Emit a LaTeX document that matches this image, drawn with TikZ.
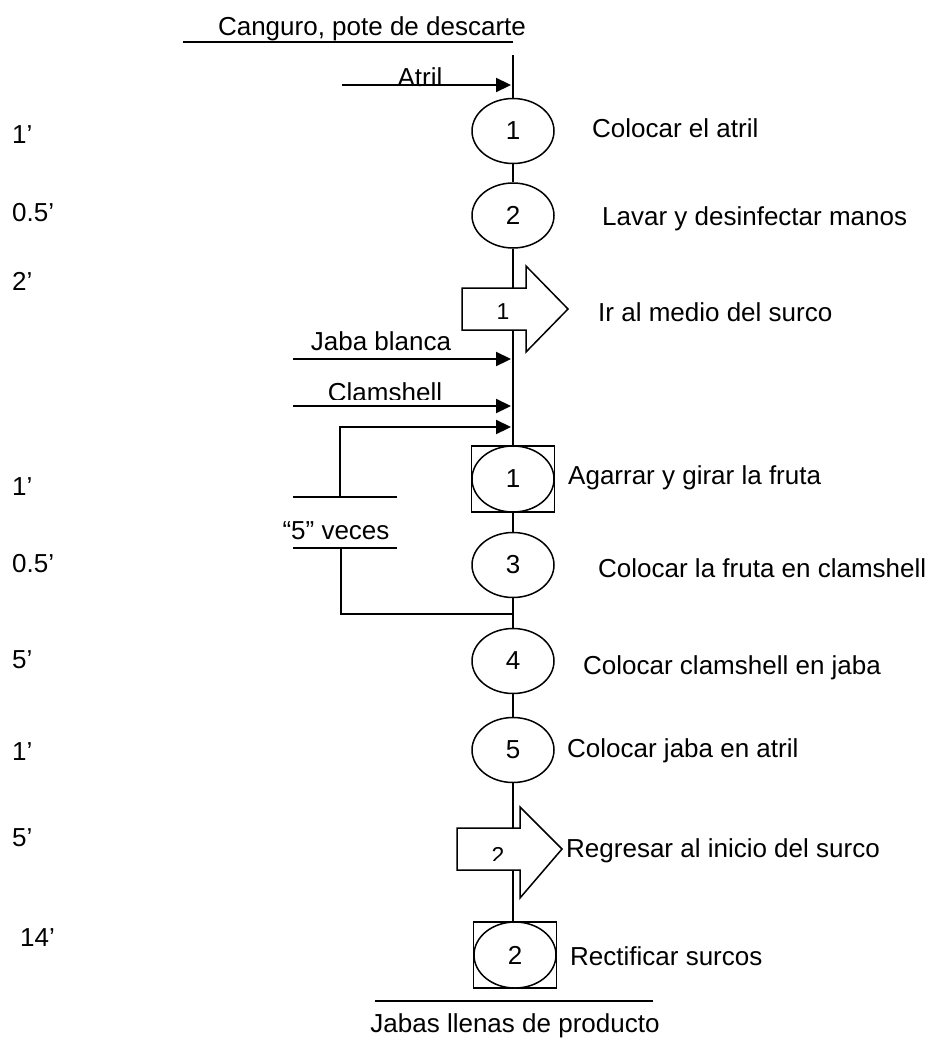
\documentclass[tikz,border=0pt]{standalone}
\usepackage{fontspec}
\setmainfont{Liberation Sans}
\usetikzlibrary{arrows.meta,shapes.geometric}
\begin{document}
\begin{tikzpicture}[x=1pt,y=-1pt,
  every node/.style={font=\fontsize{26}{31}\selectfont},
  op/.style={ellipse,draw,line width=1.5pt,fill=white,minimum width=82pt,minimum height=65pt,inner sep=0pt},
  combo/.style={rectangle,draw,line width=1.5pt,fill=white,minimum width=83pt,minimum height=66pt,inner sep=0pt},
  flow/.style={line width=1.8pt},
  feed/.style={line width=2.2pt,-{Triangle[length=15pt,width=14pt]}},
  bar/.style={line width=1.8pt},
  mv/.style={draw,line width=1.5pt,fill=white,line join=miter},
  txt/.style={anchor=base west,inner sep=0pt},
  ctxt/.style={anchor=base,inner sep=0pt},
  small/.style={font=\fontsize{23}{27}\selectfont}
]
\useasboundingbox (0,0) rectangle (935,1039);

% start / end materials
\node[ctxt] (start) at (372,35) {Canguro, pote de descarte};
\coordinate (sl) at (183,42);
\coordinate (sr) at (513,42);
\draw[bar] (sl) -- (sr);
\coordinate (top) at (513,55);

% operations
\node[op] (c1) at (513,131) {1};
\node[op] (c2) at (513,215.5) {2};
\node[combo] (sq1) at (513,479) {};
\node[op,minimum width=82pt,minimum height=66pt] (a1) at (sq1) {1};
\node[op] (c3) at (513,565) {3};
\node[op] (c4) at (513,661) {4};
\node[op] (c5) at (513,750) {5};
\node[combo] (sq2) at (515,955) {};
\node[op,minimum width=82pt,minimum height=66pt] (a2) at (sq2) {2};

% main flow line
\draw[flow] (top) -- (c1.north);
\draw[flow] (c1.south) -- (c2.north);
\draw[flow] (c2.south) -- (sq1.north -| c2.south);
\draw[flow] (sq1.south -| c3.north) -- (c3.north);
\draw[flow] (c3.south) -- (c4.north);
\draw[flow] (c4.south) -- (c5.north);
\draw[flow] (c5.south) -- (sq2.north -| c5.south);

% transport arrows (drawn over the line)
\draw[mv] (462,288) -- (526,288) -- (526,266) -- (568,309) -- (526,352) -- (526,330) -- (462,330) -- cycle;
\node[small] (t1) at (503,312) {1};
\draw[mv] (457,828) -- (520,828) -- (520,807) -- (562,849) -- (520,898) -- (520,870) -- (457,870) -- cycle;
\begin{scope}
\clip (470,830) rectangle (530,860);
\node[small,anchor=base,inner sep=0pt] (t2) at (498,863) {2};
\end{scope}

% inputs
\coordinate (atril0) at (342,85);
\coordinate (atril1) at (511,85);
\draw[feed] (atril0) -- (atril1);
\node[ctxt] (atril) at (420,86) {Atril};

\coordinate (jb0) at (293,359);
\coordinate (jb1) at (511,359);
\draw[feed] (jb0) -- (jb1);
\node[ctxt] (jaba) at (381,350) {Jaba blanca};

\coordinate (cs0) at (293,406);
\coordinate (cs1) at (511,406);
\draw[feed] (cs0) -- (cs1);
\begin{scope}
\clip (280,370) rectangle (500,399.5);
\node[ctxt] (clam) at (385,401) {Clamshell};
\end{scope}

% repetition loop
\coordinate (ub0) at (293,497);
\coordinate (ub1) at (397,497);
\coordinate (ubm) at (340,497);
\coordinate (lb0) at (293,548);
\coordinate (lb1) at (397,548);
\coordinate (lbm) at (341,548);
\coordinate (loopin) at (511,427);
\coordinate (loopout) at (513,614);
\draw[bar] (ub0) -- (ub1);
\draw[bar] (lb0) -- (lb1);
\node[ctxt] (veces) at (336,539) {“5” veces};
\draw[feed] (ubm) |- (loopin);
\draw[flow] (lbm) |- (loopout);

% end
\coordinate (el) at (375,1001);
\coordinate (er) at (653,1001);
\draw[bar] (el) -- (er);
\node[ctxt] (fin) at (515,1032) {Jabas llenas de producto};

% descriptions
\node[txt] (d1) at (592,137) {Colocar el atril};
\node[txt] (d2) at (602,225) {Lavar y desinfectar manos};
\node[txt] (d3) at (598,321) {Ir al medio del surco};
\node[txt] (d4) at (568,484) {Agarrar y girar la fruta};
\node[txt] (d5) at (598,577) {Colocar la fruta en clamshell};
\node[txt] (d6) at (583,674) {Colocar clamshell en jaba};
\node[txt] (d7) at (567,757) {Colocar jaba en atril};
\node[txt] (d8) at (566,857) {Regresar al inicio del surco};
\node[txt] (d9) at (570,965) {Rectificar surcos};

% times
\node[txt] (m1) at (12,143) {1’};
\node[txt] (m2) at (12,221) {0.5’};
\node[txt] (m3) at (12,290) {2’};
\node[txt] (m4) at (12,495) {1’};
\node[txt] (m5) at (12,572) {0.5’};
\node[txt] (m6) at (12,668) {5’};
\node[txt] (m7) at (12,760) {1’};
\node[txt] (m8) at (12,846) {5’};
\node[txt] (m9) at (20,946) {14’};
\end{tikzpicture}
\end{document}
